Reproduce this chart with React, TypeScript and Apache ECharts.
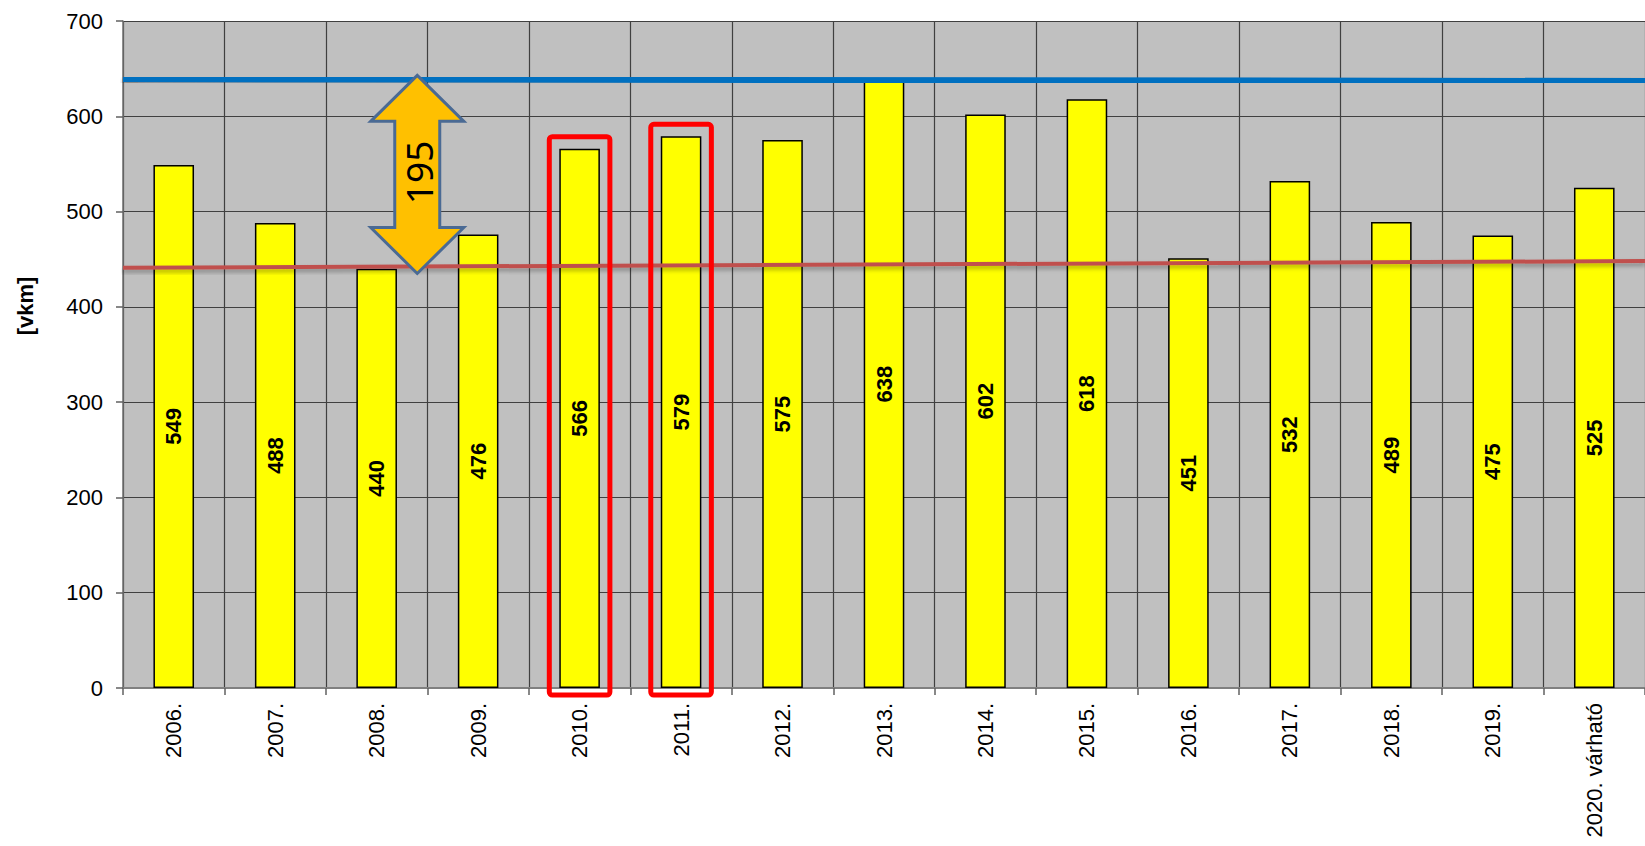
import React, { useEffect, useRef } from "react";
import * as echarts from "echarts";

const categories = [
  "2006.", "2007.", "2008.", "2009.", "2010.", "2011.", "2012.", "2013.",
  "2014.", "2015.", "2016.", "2017.", "2018.", "2019.", "2020. várható",
];
const values = [549, 488, 440, 476, 566, 579, 575, 638, 602, 618, 451, 532, 489, 475, 525];
const blueLine = [[0, 639], [15, 637]];
const redLine = [[0, 441], [15, 448]];
const highlighted = [4, 5];
const arrowData = [[2.9, 643, 435]];
const arrowLabel = "195";
const yTicks = { min: 0, max: 700, interval: 100 };

const FONT = "'Liberation Sans', Arial, sans-serif";

export default function App() {
  const ref = useRef<HTMLDivElement>(null);
  useEffect(() => {
    if (!ref.current) return;
    const chart = echarts.init(ref.current, null, { renderer: "svg" });
    const option: any = {
      animation: false,
      grid: {
        left: 123, top: 21, width: 1525, height: 667,
        show: true, backgroundColor: "#C0C0C0", borderWidth: 0,
      },
      xAxis: [
        {
          type: "category",
          data: categories,
          boundaryGap: true,
          axisLine: { show: true, lineStyle: { color: "#808080", width: 2 } },
          axisTick: { show: true, length: 7, inside: false, interval: 0, lineStyle: { color: "#606060", width: 1.5 } },
          axisLabel: {
            interval: 0, rotate: 90, margin: 15,
            fontFamily: FONT, fontSize: 22, color: "#000",
          },
          splitLine: { show: true, interval: 0, lineStyle: { color: "#404040", width: 1.2 } },
        },
        { type: "value", min: 0, max: 15, show: false },
      ],
      yAxis: {
        type: "value",
        min: yTicks.min, max: yTicks.max, interval: yTicks.interval,
        axisLine: { show: true, lineStyle: { color: "#707070", width: 1.5 } },
        axisTick: { show: true, length: 7, lineStyle: { color: "#606060", width: 1.5 } },
        axisLabel: { fontFamily: FONT, fontSize: 22, color: "#000", margin: 20 },
        splitLine: { show: true, lineStyle: { color: "#404040", width: 1.2 } },
      },
      graphic: [
        {
          type: "text", x: 25, y: 306, rotation: Math.PI / 2,
          style: {
            text: "[vkm]", fontFamily: FONT, fontSize: 22, fontWeight: "bold",
            fill: "#000", align: "center", verticalAlign: "middle",
          },
        },
      ],
      series: [
        {
          type: "bar",
          data: values,
          barWidth: "40%",
          z: 2,
          itemStyle: { color: "#FFFF00", borderColor: "#000", borderWidth: 1.5 },
          label: {
            show: true, position: "inside", rotate: 90,
            fontFamily: FONT, fontSize: 22, fontWeight: "bold", color: "#000",
          },
        },
        {
          type: "line", xAxisIndex: 1, data: blueLine, symbol: "none", z: 3,
          lineStyle: { color: "#0070C0", width: 6, shadowColor: "rgba(0,0,0,0.35)", shadowBlur: 4, shadowOffsetY: 3 },
        },
        {
          type: "line", xAxisIndex: 1, data: redLine, symbol: "none", z: 3,
          lineStyle: { color: "#C0504D", width: 4, shadowColor: "rgba(0,0,0,0.3)", shadowBlur: 4, shadowOffsetY: 3 },
        },
        {
          type: "custom", xAxisIndex: 0, z: 4,
          data: highlighted.map((i) => [i, values[i]]),
          renderItem: (params: any, api: any) => {
            const idx = api.value(0);
            const top = api.coord([idx, api.value(1)]);
            const base = api.coord([idx, 0]);
            const band = api.size([1, 0])[0];
            const bw = band * 0.4;
            const x = top[0] - bw / 2 - 10;
            const y = top[1] - 12;
            return {
              type: "rect",
              shape: { x, y, width: bw + 20, height: base[1] + 7 - y, r: 3 },
              style: { fill: "none", stroke: "#FF0000", lineWidth: 5 },
            };
          },
        },
        {
          type: "custom", xAxisIndex: 1, z: 5,
          data: arrowData,
          renderItem: (params: any, api: any) => {
            const t = api.coord([api.value(0), api.value(1)]);
            const b = api.coord([api.value(0), api.value(2)]);
            const cx = t[0];
            const hw = 46.5, sw = 22.5, hh = 46;
            const points = [
              [cx, t[1]], [cx + hw, t[1] + hh], [cx + sw, t[1] + hh],
              [cx + sw, b[1] - hh], [cx + hw, b[1] - hh], [cx, b[1]],
              [cx - hw, b[1] - hh], [cx - sw, b[1] - hh], [cx - sw, t[1] + hh],
              [cx - hw, t[1] + hh],
            ];
            return {
              type: "group",
              children: [
                { type: "polygon", shape: { points }, style: { fill: "#FFC000", stroke: "#4A6A94", lineWidth: 3 } },
                {
                  type: "text", x: cx + 1, y: (t[1] + b[1]) / 2 - 2, rotation: Math.PI / 2,
                  style: {
                    text: arrowLabel, fontFamily: "'Noto Sans', sans-serif", fontSize: 37,
                    fill: "#000", align: "center", verticalAlign: "middle",
                  },
                },
              ],
            };
          },
        },
      ],
    };
    chart.setOption(option);
    return () => chart.dispose();
  }, []);
  return (
    <div
      ref={ref}
      style={{ position: "absolute", left: 0, top: 0, width: 1645, height: 846, background: "#fff" }}
    />
  );
}
